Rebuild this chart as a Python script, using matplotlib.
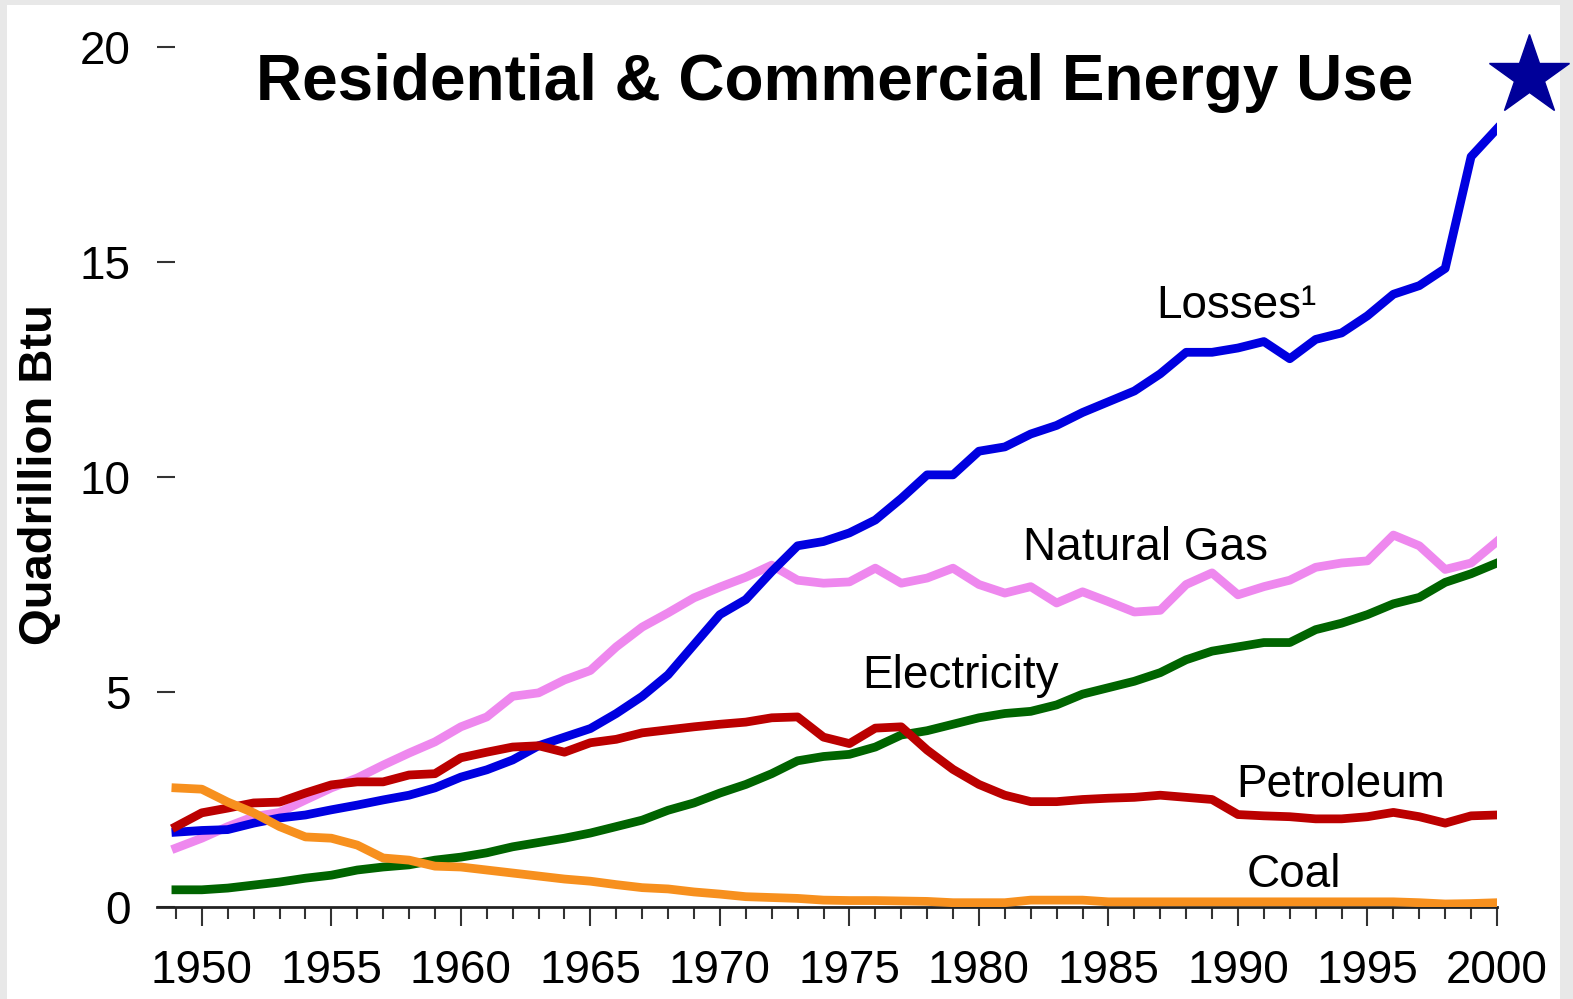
import matplotlib
matplotlib.use("Agg")
import matplotlib.pyplot as plt
from matplotlib.patches import Rectangle
from matplotlib.lines import Line2D

# data (quadrillion Btu)
years = list(range(1949, 2001))
losses = [1.74, 1.78, 1.8, 1.95, 2.07, 2.14, 2.26, 2.37, 2.49, 2.6,
          2.77, 3.02, 3.19, 3.42, 3.75, 3.95, 4.15, 4.5, 4.9, 5.4,
          6.1, 6.8, 7.15, 7.8, 8.4, 8.5, 8.7, 9.0, 9.5, 10.05,
          10.05, 10.6, 10.7, 11.0, 11.2, 11.5, 11.75, 12.0, 12.4, 12.9,
          12.9, 13.0, 13.15, 12.75, 13.2, 13.35, 13.75, 14.25, 14.45, 14.85,
          17.45, 18.1]
natural_gas = [1.37, 1.6, 1.87, 2.1, 2.2, 2.49, 2.77, 3.0, 3.3, 3.58,
               3.84, 4.19, 4.42, 4.9, 4.98, 5.28, 5.5, 6.05, 6.51, 6.84,
               7.19, 7.44, 7.67, 7.95, 7.6, 7.53, 7.56, 7.88, 7.53, 7.65,
               7.88, 7.5, 7.3, 7.45, 7.07, 7.33, 7.1, 6.86, 6.9, 7.5,
               7.77, 7.26, 7.45, 7.6, 7.9, 8.0, 8.05, 8.65, 8.4, 7.85,
               8.0, 8.5]
electricity = [0.4, 0.4, 0.44, 0.51, 0.58, 0.67, 0.74, 0.86, 0.93, 0.98,
               1.09, 1.16, 1.26, 1.4, 1.5, 1.6, 1.72, 1.87, 2.02, 2.25,
               2.42, 2.65, 2.85, 3.1, 3.4, 3.5, 3.55, 3.72, 4.0, 4.1,
               4.25, 4.4, 4.5, 4.55, 4.7, 4.95, 5.1, 5.25, 5.45, 5.75,
               5.95, 6.05, 6.15, 6.15, 6.45, 6.6, 6.8, 7.05, 7.2, 7.55,
               7.75, 8.0]
petroleum = [1.87, 2.19, 2.3, 2.42, 2.44, 2.65, 2.84, 2.91, 2.91, 3.07,
             3.1, 3.47, 3.6, 3.72, 3.75, 3.6, 3.82, 3.9, 4.05, 4.12,
             4.19, 4.25, 4.3, 4.4, 4.42, 3.95, 3.8, 4.16, 4.19, 3.65,
             3.2, 2.85, 2.6, 2.45, 2.45, 2.5, 2.53, 2.55, 2.6, 2.55,
             2.5, 2.15, 2.12, 2.1, 2.05, 2.05, 2.1, 2.2, 2.1, 1.95,
             2.12, 2.14]
coal = [2.77, 2.74, 2.44, 2.19, 1.87, 1.63, 1.6, 1.44, 1.14, 1.09,
        0.95, 0.93, 0.86, 0.79, 0.72, 0.65, 0.6, 0.52, 0.45, 0.42,
        0.35, 0.3, 0.24, 0.22, 0.2, 0.16, 0.15, 0.15, 0.14, 0.13,
        0.1, 0.1, 0.1, 0.16, 0.16, 0.16, 0.12, 0.12, 0.12, 0.12,
        0.12, 0.12, 0.12, 0.12, 0.12, 0.12, 0.12, 0.12, 0.1, 0.07,
        0.08, 0.1]

# line label text and where it sits (year, value at baseline)
labels = ["Losses\u00b9", "Natural Gas", "Electricity", "Petroleum", "Coal"]
label_pos = [(1986.85, 13.7), (1981.7, 8.07), (1975.5, 5.09), (1989.95, 2.56), (1990.35, 0.46)]

plt.rcParams['font.family'] = ['Liberation Sans', 'DejaVu Sans']

fig = plt.figure(figsize=(15.73, 9.99), dpi=100)
fig.patch.set_facecolor('#e8e8e8')
# white panel inside the gray frame
fig.add_artist(Rectangle((7 / 1573, 0), 1553 / 1573, 994 / 999, transform=fig.transFigure,
                         facecolor='white', edgecolor='none', zorder=-1))

ax = fig.add_axes([157 / 1573, 92 / 999, 1340 / 1573, 860 / 999])
ax.set_facecolor('none')

lw = 6.3
ax.plot(years, electricity, color='#006400', lw=lw, zorder=2)
ax.plot(years, natural_gas, color='#ee88ee', lw=lw, zorder=3)
ax.plot(years, losses, color='#0000e0', lw=lw, zorder=4)
ax.plot(years, petroleum, color='#bb0000', lw=lw, zorder=5)
ax.plot(years, coal, color='#f7901e', lw=lw, zorder=6)

for txt, (x, y) in zip(labels, label_pos):
    ax.text(x, y, txt, fontsize=33, ha='left', va='baseline', color='black')

ax.set_xlim(1948.27, 2000)
ax.set_ylim(0, 20)

for s in ['left', 'right', 'top']:
    ax.spines[s].set_visible(False)
ax.spines['bottom'].set_linewidth(2)
ax.spines['bottom'].set_color('#222222')

ax.set_xticks(range(1950, 2001, 5))
ax.set_xticks(range(1949, 2001), minor=True)
ax.set_yticks([0, 5, 10, 15, 20])
ax.tick_params(axis='x', which='major', direction='out', length=14, width=1.5,
               color='#333333', labelsize=33, pad=16)
ax.tick_params(axis='x', which='minor', direction='out', length=8.5, width=1.5, color='#333333')
ax.tick_params(axis='y', direction='in', length=13, width=1.5, color='#333333',
               labelsize=33, pad=19)

# y axis title, placed in figure coords
fig.text(40 / 1573, 524 / 999, 'Quadrillion Btu', fontsize=34, fontweight='bold',
         rotation=90, ha='center', va='center')

fig.text(835 / 1573, 0.917, 'Residential & Commercial Energy Use', fontsize=46,
         fontweight='bold', ha='center', va='center')

# navy star in the top right corner
fig.add_artist(Line2D([0.972], [0.9243], marker='*', markersize=61, color='#000099',
                      linestyle='none', transform=fig.transFigure))

plt.savefig('out.png', dpi=100)
